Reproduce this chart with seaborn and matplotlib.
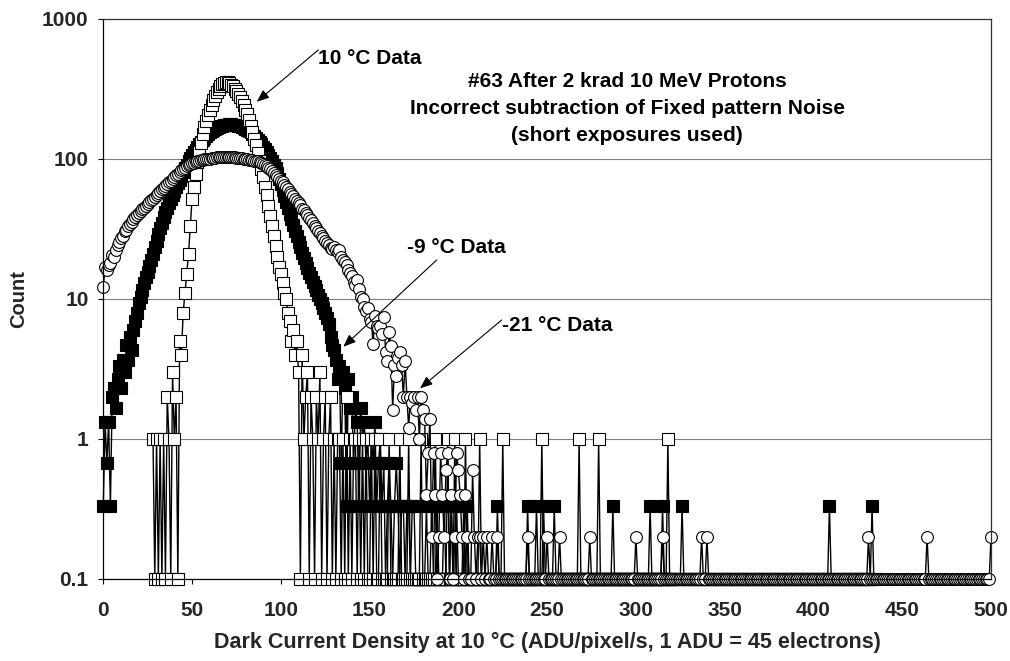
import numpy as np
import matplotlib
matplotlib.use("Agg")
import matplotlib.pyplot as plt
import seaborn as sns

sns.set_theme(style="white")
plt.rcParams["font.family"] = ["Liberation Sans", "DejaVu Sans"]
plt.rcParams["font.weight"] = "bold"

# ---------------------------------------------------------------------------
# Dark-current histograms, 1 ADU/pixel/s bins.  Empty bins are shown on the
# 0.1 floor of the log axis.
# ---------------------------------------------------------------------------

# 10 °C data (single frame, integer counts): dense part starts at bin 28
t10_start = 28
t10_core = [
    1, 0, 1, 0, 1, 0, 1, 0, 2, 1,
    0, 3, 1, 2, 0, 5, 4, 8, 11, 15,
    21, 33, 52, 63, 78, 95, 112, 130, 150, 170,
    188, 205, 225, 245, 262, 280, 300, 318, 330, 342,
    350, 355, 352, 348, 340, 330, 318, 305, 290, 275,
    258, 242, 225, 208, 190, 172, 155, 140, 125, 110,
    97, 85, 74, 63, 55, 46, 39, 33, 28, 24,
    20, 17, 15, 13, 11, 10, 8, 7, 5, 6,
    4, 5, 3, 0, 4, 1, 2, 3, 0, 2,
    1, 0, 2, 1, 3, 0, 1, 2, 0, 1,
    2, 0, 1, 0, 1, 1, 0, 1, 0, 2,
    0, 1, 0, 1, 1, 0, 1, 0, 1, 0,
    1, 0, 0, 1, 0, 1, 0, 0,
]
t10_tail_bins = [156, 161, 167, 172, 179, 187, 194, 198, 204, 212, 225, 247, 268, 279, 318]
t10_tail_vals = [1] * len(t10_tail_bins)
t10_end = 320

# -9 °C data (mean of three frames): dense part starts at bin 0
m9_start = 0
m9_core = [
    0.33, 1.33, 0.67, 1.33, 0.33, 2, 2.33, 1.67, 2.67, 3.33,
    2.33, 3.67, 3, 4.67, 3.67, 5.33, 4.33, 6, 7, 8,
    9.33, 10.33, 11.67, 13, 14.33, 15.67, 17.33, 19, 21, 23.33,
    26, 29, 32, 35, 38.33, 41.67, 45, 48.33, 51.67, 55,
    58.67, 62.67, 67, 71.33, 76, 81, 86, 91, 96, 101,
    106, 111.33, 116.67, 122, 127.33, 132.33, 137.33, 142, 146.33, 150.67,
    154.67, 158.33, 161.67, 164.67, 167.33, 169.67, 171.67, 173.33, 174.67, 175.67,
    176.33, 176.67, 176.67, 176.33, 175.67, 174.67, 173.33, 171.67, 169.67, 167.33,
    164.67, 161.67, 158.33, 154.67, 150.67, 146.33, 141.67, 137, 132, 127,
    122, 117, 112, 107, 102, 96.67, 91.33, 85.67, 80, 72,
    66, 60, 54.67, 49.67, 45, 40.67, 37, 33.67, 30.67, 28,
    25.67, 23.33, 21.33, 19.67, 18, 16.67, 15.33, 14.33, 13.33, 12.33,
    11.67, 10.67, 10, 9.33, 8.67, 8, 7.33, 6.67, 5.33, 4.67,
    4.33, 3.67, 2.67, 3.33, 0.67, 3, 2.33, 0.33, 2.67, 1.67,
    2, 0.67, 1.67, 1.33, 0.33, 1.67, 1, 1.33, 0.67, 1,
    0.33, 1, 0.67, 1.33, 0.33, 0.67, 1, 0.33, 0.67, 0,
    0.33, 0.67, 0.33, 0, 0.33, 0.67, 0.33, 0, 0.33, 0.33,
    0, 0.33, 0.33, 0, 0.33, 0.33, 0,
]
m9_tail_bins = [182, 185, 188, 192, 196, 199, 203, 205, 222, 239,
                244, 248, 254, 287, 308, 315, 326, 409, 433]
m9_tail_vals = [0.33] * len(m9_tail_bins)
m9_end = 435

# -21 °C data (mean of five frames): dense part starts at bin 0
m21_start = 0
m21_core = [
    12.2, 16.8, 16.2, 17.4, 18.2, 20.6, 19.8, 22.4, 24.2, 25.4,
    27.2, 28.4, 30.6, 31.2, 33, 34.6, 35.2, 37, 38.4, 39.6,
    41, 42.2, 43.6, 44.8, 46.2, 47.4, 49, 50.6, 52, 53.8,
    55.4, 57.2, 58.8, 60.6, 62.4, 64.2, 66, 68, 70, 72,
    74.2, 76.4, 78.6, 80.8, 82.8, 84.8, 86.6, 88.4, 90, 91.6,
    93, 94.2, 95.4, 96.4, 97.2, 98, 98.6, 99.2, 99.8, 100.2,
    100.6, 101.2, 101.8, 102.4, 102.8, 103.2, 103.6, 103.8, 104, 104,
    104, 103.8, 103.6, 103.2, 102.8, 102.4, 102, 101.6, 101, 100.4,
    100, 99.4, 99, 98.6, 98, 97.4, 96.8, 96, 95, 93.8,
    92.4, 90.6, 88.8, 86.4, 84.2, 81.8, 79.2, 76.6, 74.2, 72,
    70, 68, 65.4, 63, 61.2, 58.4, 56.6, 54, 52.2, 50,
    48.4, 46.6, 44.2, 43, 41.4, 39.6, 38.2, 36.4, 35, 33.2,
    32.2, 30.8, 29.6, 28.2, 27.4, 26, 25, 24.2, 23, 22.6,
    23.6, 22.4, 21.6, 22.4, 20, 19, 18.4, 17.6, 16, 15.4,
    14.6, 13.2, 12.6, 13.6, 11.8, 10.4, 10, 8.8, 8.2, 8.6,
    7.2, 6.8, 4.8, 7.6, 6.4, 6.2, 6.4, 5.6, 7.4, 4.2,
    3.6, 5.8, 4.6, 1.6, 3.4, 2.8, 3.8, 4.2, 3.4, 2,
    3.6, 2, 1.2, 2, 1.8, 2, 1.6, 2, 1, 2,
    1.6, 1.4, 0.4, 0.8, 1.4, 0.2, 0.8, 0.4, 0, 0.2,
    0.8, 0.4, 0.2, 0.6, 0.8, 0, 0.4, 0, 0.2, 0.8,
    0.6, 0.4, 0.2, 0, 0.4, 0.2, 0, 0, 0.6, 0.2,
    0, 0.2, 0.2, 0, 0.2, 0, 0.2, 0, 0, 0.2,
    0, 0, 0.2,
]
m21_tail_bins = [239, 250, 257, 274, 300, 315, 337, 340, 431, 464, 500]
m21_tail_vals = [0.2] * len(m21_tail_bins)
m21_end = 500

FLOOR = 0.1

x_ticks = [0, 50, 100, 150, 200, 250, 300, 350, 400, 450, 500]
y_ticks = [0.1, 1, 10, 100, 1000]
y_tick_labels = ["0.1", "1", "10", "100", "1000"]

title_lines = [
    "#63 After 2 krad 10 MeV Protons",
    "Incorrect subtraction of Fixed pattern Noise",
    "(short exposures used)",
]


def histogram(start, core, tail_bins, tail_vals, end):
    bins = np.arange(start, end + 1)
    counts = np.zeros(len(bins))
    counts[:len(core)] = core
    for b, v in zip(tail_bins, tail_vals):
        counts[b - start] = v
    return bins, np.maximum(counts, FLOOR)


fig = plt.figure(figsize=(10.1, 6.61), dpi=100)
W, H = 1010, 661
ax = fig.add_axes([103.3 / W, 1 - 579 / H, (991 - 103.3) / W, (579 - 19) / H])
ax.set_yscale("log")
ax.set_xlim(0, 500)
ax.set_ylim(0.1, 1000)

series = [
    (histogram(m9_start, m9_core, m9_tail_bins, m9_tail_vals, m9_end), "s", "black", 8.0),
    (histogram(t10_start, t10_core, t10_tail_bins, t10_tail_vals, t10_end), "s", "white", 8.0),
    (histogram(m21_start, m21_core, m21_tail_bins, m21_tail_vals, m21_end), "o", "white", 8.5),
]
for (bx, by), mk, face, ms in series:
    sns.lineplot(x=bx, y=by, ax=ax, estimator=None, sort=False, legend=False,
                 color="black", linewidth=1.0, marker=mk, markersize=ms,
                 markerfacecolor=face, markeredgecolor="black",
                 markeredgewidth=0.8, clip_on=False)

ax.set_xticks(x_ticks)
ax.set_xticklabels([str(v) for v in x_ticks])
ax.set_yticks(y_ticks)
ax.set_yticklabels(y_tick_labels)
ax.yaxis.set_minor_locator(matplotlib.ticker.NullLocator())
ax.grid(axis="y", which="major", color="#808080", linewidth=0.8)
ax.grid(axis="x", visible=False)
ax.set_axisbelow(True)

for side in ["left", "bottom"]:
    ax.spines[side].set_color("black")
    ax.spines[side].set_linewidth(0.9)
for side in ["top", "right"]:
    ax.spines[side].set_color("#333333")
    ax.spines[side].set_linewidth(0.9)
    ax.spines[side].set_visible(True)

ax.tick_params(axis="both", which="major", direction="out", length=3.6,
               width=0.8, color="black", labelsize=15, bottom=True, left=True)
ax.tick_params(axis="x", pad=12)
ax.tick_params(axis="y", pad=7)
for lab in ax.get_xticklabels() + ax.get_yticklabels():
    lab.set_fontweight("bold")

ax.set_xlabel("Dark Current Density at 10 °C (ADU/pixel/s, 1 ADU = 45 electrons)",
              fontsize=15.5, fontweight="bold")
ax.xaxis.set_label_coords(0.5, (579 - 642) / 560)
ax.xaxis.label.set_va("center")
ax.set_ylabel("Count", fontsize=14.5, fontweight="bold")
ax.yaxis.set_label_coords((19 - 103.3) / 887.7, 0.5)
ax.yaxis.label.set_va("center")

# Series labels with arrows
arrow_kw = dict(arrowstyle="-|>,head_length=0.75,head_width=0.3", color="black",
                lw=0.8, mutation_scale=10, shrinkA=0, shrinkB=0)
labels = [
    ("10 °C Data", (121.1, 526), (121.1, 601), (86.4, 256)),
    ("-9 °C Data", (171.1, 23.5), (187.8, 19.0), (135.2, 4.56)),
    ("-21 °C Data", (224.6, 6.52), (224.4, 7.08), (178.4, 2.30)),
]
for text, pos, tail, tip in labels:
    ax.text(pos[0], pos[1], text, ha="left", va="center", fontsize=15,
            fontweight="bold", color="black")
    ax.annotate("", xy=tip, xytext=tail, arrowprops=arrow_kw)

for line, yv in zip(title_lines, [355, 231, 148]):
    ax.text(295, yv, line, ha="center", va="center", fontsize=15,
            fontweight="bold", color="black")

fig.savefig("out.png", dpi=100)
